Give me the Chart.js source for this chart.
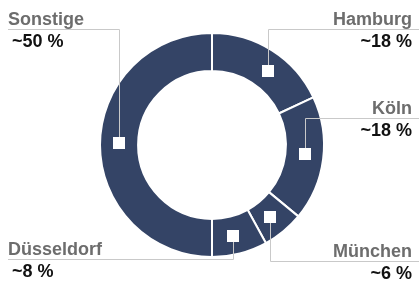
<!DOCTYPE html>
<html>
<head>
<meta charset="utf-8">
<script src="https://cdn.jsdelivr.net/npm/chart.js@4/dist/chart.umd.min.js"></script>
<style>
  html, body { margin: 0; padding: 0; background: #fff; }
  #wrap { width: 419px; height: 286px; }
</style>
</head>
<body>
<div id="wrap"><canvas id="myChart" width="419" height="286"></canvas></div>
<script>
// city shares, clockwise from 12 o'clock
var cities = ['Hamburg', 'Köln', 'München', 'Düsseldorf', 'Sonstige'];
var shares = [18, 18, 6, 8, 50];
var shareLabels = ['~18 %', '~18 %', '~6 %', '~8 %', '~50 %'];

// label side, where each leader line turns horizontal (y in px), small marker nudge (deg)
var side = ['right', 'right', 'right', 'left', 'left'];
var lineY = [29, 118, 261, 259, 29];
var nudge = [5, -1.5, 0.8, 1.3, 1];

var leaders = {
	id: 'leaders',
	afterDatasetsDraw: function(chart){
		var ctx = chart.ctx;
		var arcs = chart.getDatasetMeta(0).data;
		var W = chart.width;
		ctx.save();
		for(var i in arcs){
			var p = arcs[i].getProps(['x','y','startAngle','endAngle','innerRadius','outerRadius'], true);
			var a = (p.startAngle + p.endAngle) / 2 + nudge[i] * Math.PI / 180;
			var r = (p.innerRadius + p.outerRadius) / 2;
			var mx = Math.round(p.x + Math.cos(a) * r);
			var my = Math.round(p.y + Math.sin(a) * r);
			var right = side[i] == 'right';
			var ly = lineY[i];

			// leader line
			ctx.strokeStyle = '#c9c9c9';
			ctx.lineWidth = 1;
			ctx.beginPath();
			ctx.moveTo(mx + 0.5, my);
			ctx.lineTo(mx + 0.5, ly + 0.5);
			ctx.lineTo(right ? W : 8, ly + 0.5);
			ctx.stroke();

			// marker
			ctx.fillStyle = '#ffffff';
			ctx.fillRect(mx - 6, my - 6, 12, 12);

			// texts
			ctx.font = 'bold 18px "Liberation Sans", Arial, sans-serif';
			ctx.textBaseline = 'alphabetic';
			ctx.textAlign = right ? 'right' : 'left';
			ctx.fillStyle = '#6d6d6d';
			ctx.fillText(cities[i], right ? 412 : 8, ly - 4);
			ctx.fillStyle = '#111111';
			ctx.fillText(shareLabels[i], right ? 412 : 12, ly + 18);
		}
		ctx.restore();
	}
};

var chartdata = {
	labels: cities,
	datasets: [{
		data: shares,
		backgroundColor: '#344466',
		borderColor: '#ffffff',
		borderWidth: 2,
		hoverOffset: 0
	}]
};

var ctx = document.getElementById('myChart');
var donut = new Chart(ctx, {
	type: 'doughnut',
	data: chartdata,
	options: {
		responsive: false,
		animation: false,
		cutout: '66%',
		layout: { padding: { top: 32, bottom: 28, left: 5, right: 0 } },
		plugins: {
			legend: { display: false },
			tooltip: { enabled: false }
		}
	},
	plugins: [leaders]
});
</script>
</body>
</html>
